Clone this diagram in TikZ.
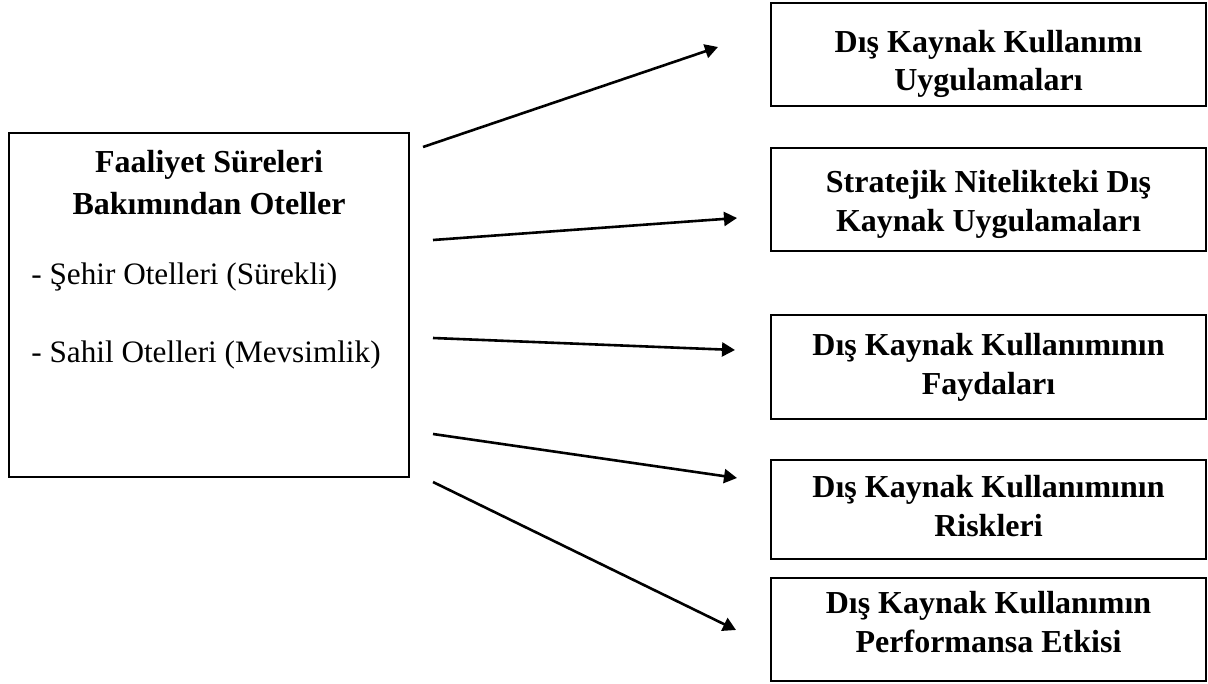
\documentclass[tikz,border=0pt]{standalone}
\usepackage{fontspec}
\setmainfont{Liberation Serif}
\usetikzlibrary{arrows.meta}
\begin{document}
\begin{tikzpicture}[x=0.5pt,y=-0.5pt,
  box/.style={draw,line width=1pt,inner sep=0pt,minimum width=217.5pt},
  bt/.style={font=\fontsize{16pt}{19pt}\selectfont\bfseries,anchor=base,inner sep=0pt},
  rt/.style={font=\fontsize{15.6pt}{19pt}\selectfont,anchor=base west,inner sep=0pt},
  arr/.style={-{Triangle[length=6.5pt,width=7pt]},line width=1.3pt}]
\useasboundingbox (0,0) rectangle (1208,684);

% left box
\node[draw,line width=1pt,inner sep=0pt,minimum width=200pt,minimum height=172pt] (L) at (209,305) {};
\node[bt] (la) at (209,173) {Faaliyet Süreleri};
\node[bt] (lb) at (209,214) {Bakımından Oteller};
\node[rt] (lc) at (31,284) {- Şehir Otelleri (Sürekli)};
\node[rt] (ld) at (31,362) {- Sahil Otelleri (Mevsimlik)};

% right boxes
\node[box,minimum height=51.5pt] (B1) at (988.5,54.5) {};
\node[bt] (B1a) at (988.5,53) {Dış Kaynak Kullanımı};
\node[bt] (B1b) at (988.5,91) {Uygulamaları};

\node[box,minimum height=51.5pt] (B2) at (988.5,199.5) {};
\node[bt] (B2a) at (988.5,192) {Stratejik Nitelikteki Dış};
\node[bt] (B2b) at (988.5,231) {Kaynak Uygulamaları};

\node[box,minimum height=52pt] (B3) at (988.5,367) {};
\node[bt] (B3a) at (988.5,355) {Dış Kaynak Kullanımının};
\node[bt] (B3b) at (988.5,394) {Faydaları};

\node[box,minimum height=49.5pt] (B4) at (988.5,509.5) {};
\node[bt] (B4a) at (988.5,497) {Dış Kaynak Kullanımının};
\node[bt] (B4b) at (988.5,536) {Riskleri};

\node[box,minimum height=51.5pt] (B5) at (988.5,629.5) {};
\node[bt] (B5a) at (988.5,613) {Dış Kaynak Kullanımın};
\node[bt] (B5b) at (988.5,652) {Performansa Etkisi};

% arrows
\coordinate (s1) at (423,147); \coordinate (e1) at (718,47);
\coordinate (s2) at (433,240); \coordinate (e2) at (737,218);
\coordinate (s3) at (433,338); \coordinate (e3) at (735,350);
\coordinate (s4) at (433,434); \coordinate (e4) at (737,478);
\coordinate (s5) at (433,482); \coordinate (e5) at (736,630);
\draw[arr] (s1) -- (e1);
\draw[arr] (s2) -- (e2);
\draw[arr] (s3) -- (e3);
\draw[arr] (s4) -- (e4);
\draw[arr] (s5) -- (e5);
\end{tikzpicture}
\end{document}
